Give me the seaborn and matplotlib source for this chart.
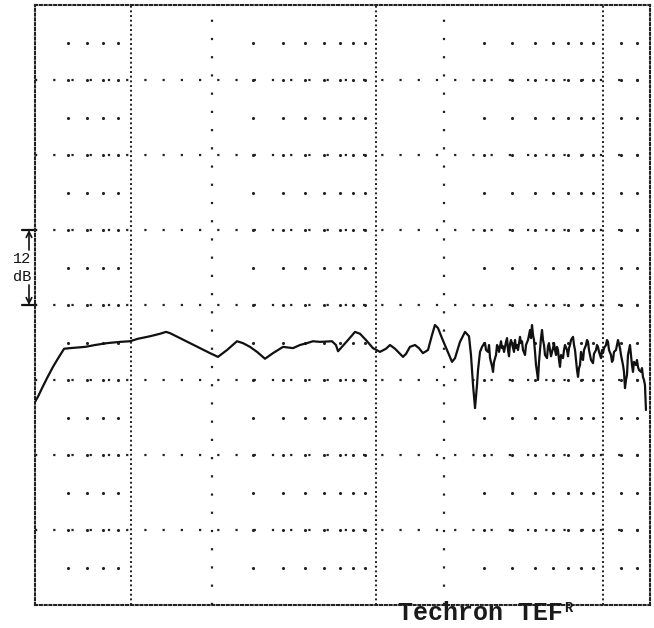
import numpy as np
import pandas as pd
import matplotlib
matplotlib.use("Agg")
import matplotlib.pyplot as plt
import matplotlib.transforms as mtransforms
import seaborn as sns

# ---------------- data ----------------
freq_hz = [46, 47.2, 48.7, 50.7, 53.2, 55.5, 57.3, 58.2, 61.1, 69.0, 74.8, 82.4, 91.5, 99.2,
           106.2, 117.7, 128.2, 134.9, 139.6, 152.1, 165.6, 180.4, 196.6, 212.1, 231.8, 255.6,
           271.0, 290.4, 311.1, 336.5, 364, 401.5, 442.9, 474.3, 508, 539, 577, 649, 675, 689,
           716, 760, 813.6, 854.6, 906, 970.6, 1041, 1107, 1153, 1214, 1277, 1317, 1359, 1413,
           1488, 1549, 1614, 1699, 1770, 1824, 1882, 1959, 2062, 2169, 2236, 2351, 2474, 2576,
           2628, 2683, 2738, 2793,
           2822, 2880, 2939, 2999, 3030, 3060, 3123, 3155, 3187, 3252, 3285, 3318, 3386, 3421,
           3455, 3491, 3562, 3598, 3635, 3672, 3747, 3785, 3823, 3862, 3901, 3941, 4022, 4063,
           4104, 4146, 4188, 4230, 4317, 4361, 4405, 4450, 4541, 4587, 4681, 4729, 4777, 4825,
           4874, 4924, 4974, 5025, 5076, 5127, 5180, 5232, 5285, 5339, 5394, 5448, 5504, 5560,
           5674, 5731, 5790, 5848, 5908, 6029, 6090, 6152, 6215, 6278, 6342, 6406, 6471, 6537,
           6671, 6739, 6807, 6947, 7017, 7089, 7161, 7234, 7382, 7457, 7533, 7609, 7687, 7765,
           7844, 7924, 8004, 8086, 8168, 8251, 8420, 8505, 8592, 8679, 8768, 8857, 9038, 9130,
           9317, 9411, 9507, 9604, 9800, 9900, 10000, 10100, 10304, 10408, 10512, 10618, 10832,
           10941, 11051, 11162, 11387, 11502, 11618, 11852, 11971, 12213, 12335, 12459, 12584,
           12711, 12838, 12967, 13097, 13229, 13362, 13496, 13631, 13907, 14046, 14187, 14330,
           14619, 14766, 14914, 15064, 15215, 15368]
level_db = [32.5, 33.4, 34.7, 36.3, 38.1, 39.5, 40.5, 41.0, 41.1, 41.3, 41.6, 41.9, 42.1, 42.2,
            42.6, 43.0, 43.4, 43.7, 43.5, 42.7, 41.9, 41.1, 40.3, 39.7, 40.8, 42.2,
            41.9, 41.3, 40.5, 39.4, 40.3, 41.3, 41.1, 41.6, 41.9, 42.2, 42.1, 42.2, 41.6, 40.6,
            41.3, 42.4, 43.7, 43.4, 42.4, 41.1, 40.5, 41.0, 41.6, 41.0, 40.2, 39.7, 40.2, 41.3,
            41.6, 41.1, 40.3, 40.8, 43.2, 44.8, 44.3, 42.7, 40.8, 38.9, 39.5, 42.1, 43.7, 43.0,
            40.0, 35.2, 31.5, 35.2,
            37.6, 40.5, 41.3, 41.8, 41.9, 40.8, 40.5, 41.6, 39.5, 38.2, 37.3, 38.9, 40.0, 41.6,
            41.3, 40.5, 42.2, 41.1, 41.4, 40.5, 42.1, 42.7, 40.8, 39.8, 41.8, 42.4, 41.1, 40.5,
            42.4, 41.1, 41.6, 40.8, 42.9, 41.9, 42.2, 40.8, 40.0, 41.6, 42.4, 43.2, 44.0, 42.7,
            44.8, 43.2, 42.4, 40.5, 38.4, 37.3, 36.0, 38.9, 40.8, 42.7, 44.0, 42.4, 41.6, 40.0,
            39.5, 41.4, 41.9, 40.8, 39.8, 41.1, 41.9, 40.8, 40.0, 41.3, 40.8, 39.2, 38.1, 40.0,
            39.5, 40.8, 41.6, 40.8, 39.8, 41.1, 41.6, 42.4, 42.9, 41.6, 40.8, 39.2, 37.6, 36.5,
            37.9, 38.4, 40.5, 39.5, 39.2, 40.8, 41.6, 42.4, 42.1, 40.8, 40.0, 39.2, 38.7, 40.2,
            40.8, 41.6, 41.3, 40.5, 39.5, 40.8, 40.3, 41.1, 41.6, 42.4, 42.1, 40.8, 40.0,
            38.9, 39.2, 40.5, 40.8, 41.6, 42.4, 41.1, 40.0, 38.4, 37.3, 34.7, 36.0,
            36.8, 40.0, 40.8, 41.6, 40.0, 38.4, 37.3, 38.9, 38.4, 39.2, 38.1, 37.6,
            37.3, 37.9, 36.5, 36.0, 35.2, 31.2]

# grid definition (frequencies in Hz, levels in dB)
minor_columns = [60, 70, 80, 90, 300, 400, 500, 600, 700, 800, 900,
                 3000, 4000, 5000, 6000, 7000, 8000, 9000, 12000, 14000]
dense_verticals = [100, 1000, 10000]
medium_verticals = [200, 2000]
major_rows = [12, 24, 36, 48, 60, 72, 84]
minor_rows = [6, 12, 18, 24, 30, 36, 42, 48, 54, 60, 66, 72, 78, 84, 90]
marker_span_db = [48, 60]
brand_text = "Techron TEF"
brand_sup = "R"

# horizontal scale of the scanned chart (log frequency, slightly warped)
scale_log_f = [0.0, np.log10(46), 2.0, np.log10(200), 3.0, np.log10(2000), 4.0, np.log10(16000), 6.0]
scale_pos = [-473.8, 0, 96, 177, 341, 409, 568, 615, 1028.8]


def fwd(f):
    f = np.asarray(f, dtype=float)
    with np.errstate(divide="ignore", invalid="ignore"):
        lf = np.log10(np.where(f > 0, f, 1e-12))
    return np.interp(lf, scale_log_f, scale_pos)


def inv(p):
    p = np.asarray(p, dtype=float)
    return 10 ** np.interp(p, scale_pos, scale_log_f)


sns.set_style("white")
plt.rcParams["font.family"] = ["Liberation Mono", "DejaVu Sans Mono"]

W, H = 654, 628
fig = plt.figure(figsize=(W / 100, H / 100), dpi=100)
ax = fig.add_axes([35 / W, (H - 605) / H, 615 / W, 600 / H])

df = pd.DataFrame({"freq": freq_hz, "level": level_db})
sns.lineplot(data=df, x="freq", y="level", sort=False, estimator=None,
             color="#111111", linewidth=1.6, ax=ax, zorder=5)

ax.set_xscale("function", functions=(fwd, inv))
ax.set_xlim(46, 16000)
ax.set_ylim(0, 96)
ax.set_xticks([])
ax.set_yticks([])
ax.set_xlabel("")
ax.set_ylabel("")

# frame as dense dotted line
for sp in ax.spines.values():
    sp.set_visible(True)
    sp.set_linestyle((0, (1, 1.3)))
    sp.set_linewidth(1.5)
    sp.set_edgecolor("#222222")

for f in dense_verticals:
    ax.axvline(f, color="#222222", lw=1.4, ls=(0, (1, 1.4)), zorder=2)
for f in medium_verticals:
    ax.axvline(f, color="#222222", lw=1.6, ls=(0, (1, 7.2)), zorder=2)
for r in major_rows:
    ax.axhline(r, color="#222222", lw=1.6, ls=(0, (1, 7.2)), zorder=2)

gx, gy = np.meshgrid(minor_columns, minor_rows)
ax.scatter(gx.ravel(), gy.ravel(), s=5, color="#222222", linewidths=0, zorder=3)

# 12 dB scale marker left of the frame
tr = mtransforms.blended_transform_factory(ax.transAxes, ax.transData)
xa = -6 / 615
lo, hi = marker_span_db
for yv in (lo, hi):
    ax.plot([xa - 7 / 615, xa + 7 / 615], [yv, yv], color="#111111", lw=1.6,
            transform=tr, clip_on=False)
ax.annotate("", xy=(xa, hi), xytext=(xa, hi - 3.2), xycoords=tr, textcoords=tr,
            arrowprops=dict(arrowstyle="->", color="#111111", lw=1.2, shrinkA=0, shrinkB=0))
ax.annotate("", xy=(xa, lo), xytext=(xa, lo + 3.2), xycoords=tr, textcoords=tr,
            arrowprops=dict(arrowstyle="->", color="#111111", lw=1.2, shrinkA=0, shrinkB=0))
ax.text(-13 / 615, 55.4, "12", transform=tr, ha="center", va="center",
        fontsize=11, color="#111111", clip_on=False)
ax.text(-13 / 615, 52.5, "dB", transform=tr, ha="center", va="center",
        fontsize=11, color="#111111", clip_on=False)

# brand text
t = fig.text(398 / W, (H - 620) / H, brand_text, fontsize=18, fontweight="bold",
             color="#1a1a1a", va="baseline", ha="left")
fig.canvas.draw()
ax.annotate(brand_sup, xy=(1.0, 0.42), xycoords=t, xytext=(1, 0), textcoords="offset points",
            fontsize=10, fontweight="bold", color="#1a1a1a", va="bottom", ha="left",
            annotation_clip=False)

fig.savefig("out.png", dpi=100, facecolor="white")
